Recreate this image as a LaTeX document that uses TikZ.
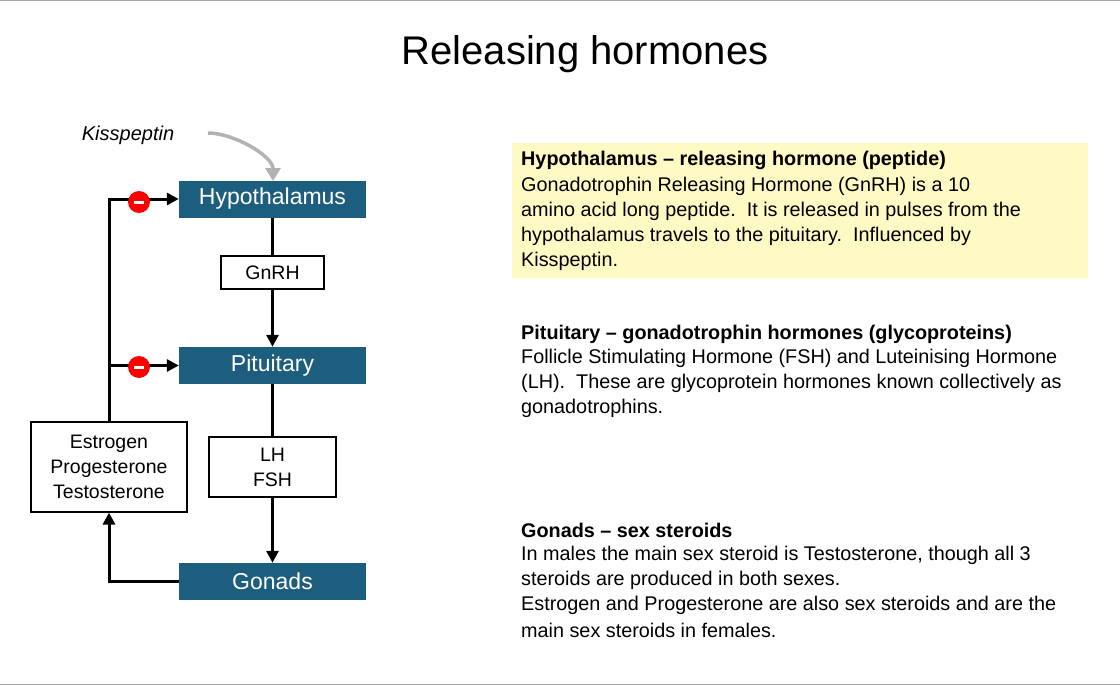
\documentclass[tikz,border=0pt]{standalone}
\usepackage{fontspec}
\setmainfont{Liberation Sans}
\usetikzlibrary{arrows.meta}
\definecolor{hb}{HTML}{1D5E7E}
\definecolor{yb}{HTML}{FFFAC4}
\begin{document}
\begin{tikzpicture}[x=1pt,y=-1pt,
 blue/.style={draw=none,fill=hb,text=white,minimum width=187pt,minimum height=37pt,inner sep=0pt,font=\fontsize{23}{25}\selectfont},
 wbox/.style={draw=black,line width=1.2pt,fill=white,align=center,inner sep=0pt,font=\fontsize{19.5}{25}\selectfont},
 ln/.style={line width=3pt},
 arr/.style={ln,-{Triangle[length=12pt,width=12pt]}},
 tx/.style={anchor=west,inner sep=0pt,font=\fontsize{19.8}{22}\selectfont},
 bx/.style={tx,font=\bfseries\fontsize{19.8}{22}\selectfont},
 minus/.style={circle,fill=red,minimum size=22pt,inner sep=0pt}]
\useasboundingbox (0,0) rectangle (1120,685);
\draw[gray!70,line width=1pt] (0,0.5)--(1120,0.5) (0,684)--(1120,684);
\node[font=\fontsize{40}{44}\selectfont] (title) at (585,54) {Releasing hormones};
\node[blue] (hyp) at (272.5,199) {Hypothalamus};
\node[blue] (pit) at (272.5,365.5) {Pituitary};
\node[blue] (gon) at (272.5,581.5) {Gonads};
\node[wbox,minimum width=103pt,minimum height=33pt] (gnrh) at (272.5,272.5) {GnRH};
\node[wbox,minimum width=127pt,minimum height=60pt] (lh) at (272.5,467) {LH\\FSH};
\node[wbox,minimum width=156pt,minimum height=90pt] (est) at (109,467) {Estrogen\\Progesterone\\Testosterone};
\draw[ln] (hyp.south)--(gnrh.north);
\draw[arr] (gnrh.south)--(pit.north);
\draw[ln] (pit.south)--(lh.north);
\draw[arr] (lh.south)--(gon.north);
\coordinate (c1) at (109,581.5);
\coordinate (c2) at (109,199);
\coordinate (c3) at (109,365.5);
\draw[arr] (gon.west)--(c1)--(est.south);
\draw[arr] (est.north)--(c2)--(hyp.west);
\draw[arr] (c3)--(pit.west);
\node[minus] (m1) at (139,202) {};
\node[minus] (m2) at (139,367) {};
\draw[white,line width=3pt] ([xshift=-5pt]m1.center)--([xshift=5pt]m1.center);
\draw[white,line width=3pt] ([xshift=-5pt]m2.center)--([xshift=5pt]m2.center);
\node[font=\itshape\fontsize{20}{22}\selectfont] (kiss) at (128,135) {Kisspeptin};
\coordinate (k1) at (208,133);
\draw[gray!60,line width=3.5pt,-{Triangle[length=13pt,width=15pt]}] (k1) to[out=0,in=90,looseness=0.8] (273,181);
\node[fill=yb,minimum width=576pt,minimum height=135pt,inner sep=0pt] (yel) at (800,210.5) {};
\node[bx] at (521,160) {Hypothalamus – releasing hormone (peptide)};
\node[tx] at (521,186) {Gonadotrophin Releasing Hormone (GnRH) is a 10};
\node[tx] at (521,211) {amino acid long peptide.\ \ It is released in pulses from the};
\node[tx] at (521,236) {hypothalamus travels to the pituitary.\ \ Influenced by};
\node[tx] at (521,261) {Kisspeptin.};
\node[bx] at (521,334) {Pituitary – gonadotrophin hormones (glycoproteins)};
\node[tx] at (521,358) {Follicle Stimulating Hormone (FSH) and Luteinising Hormone};
\node[tx] at (521,383) {(LH).\ \ These are glycoprotein hormones known collectively as};
\node[tx] at (521,408) {gonadotrophins.};
\node[bx] at (521,530) {Gonads – sex steroids};
\node[tx] at (521,555) {In males the main sex steroid is Testosterone, though all 3};
\node[tx] at (521,580) {steroids are produced in both sexes.};
\node[tx] at (521,605) {Estrogen and Progesterone are also sex steroids and are the};
\node[tx] at (521,630) {main sex steroids in females.};
\end{tikzpicture}
\end{document}
